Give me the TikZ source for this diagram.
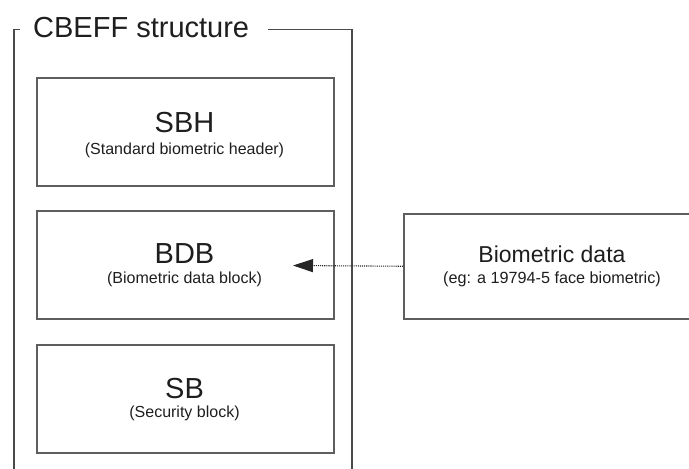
\documentclass[tikz,border=0pt]{standalone}
\usepackage{fontspec}
\setmainfont{Liberation Sans}
\usetikzlibrary{arrows.meta}
\definecolor{boxgray}{HTML}{5E5E5E}
\definecolor{framegray}{HTML}{4A4A4A}
\definecolor{txt}{HTML}{1E1E1E}
\begin{document}
\begin{tikzpicture}[x=1pt,y=-1pt,
  blk/.style={draw=boxgray,line width=1.5pt,minimum width=297pt,minimum height=108pt,inner sep=0pt,anchor=north west},
  frm/.style={draw=framegray,line width=1.2pt},
  ttl/.style={font=\fontsize{29}{29}\selectfont,text=txt,anchor=base west,inner sep=0pt},
  big/.style={font=\fontsize{29}{29}\selectfont,text=txt,anchor=base,inner sep=0pt},
  mid/.style={font=\fontsize{23}{23}\selectfont,text=txt,anchor=base,inner sep=0pt},
  small/.style={font=\fontsize{16}{16}\selectfont,text=txt,anchor=base,inner sep=0pt},
  link/.style={draw=black!85,densely dotted,line width=1.1pt,-{Triangle[length=20pt,width=13pt]}},
]
\useasboundingbox (0,0) rectangle (689,469);
\clip (0,0) rectangle (689,469);
% outer frame
\node[ttl] (title) at (33,37) {CBEFF structure};
\draw[frm] (14,475) -- (14,29.5) -- (20,29.5);
\draw[frm] (268,29.5) -- (352,29.5) -- (352,475);
% blocks
\node[blk] (sbh) at (36,77) {};
\node[big] (sbht) at (184.5,132) {SBH};
\node[small] (sbhs) at (184.5,154) {(Standard biometric header)};
\node[blk] (bdb) at (36,210) {};
\node[big] (bdbt) at (184.5,263) {BDB};
\node[small] (bdbs) at (184.5,283) {(Biometric data block)};
\node[blk] (sb) at (36,344) {};
\node[big] (sbt) at (184.5,398) {SB};
\node[small] (sbs) at (184.5,417) {(Security block)};
% biometric data
\node[blk,minimum width=298pt,minimum height=105pt] (bio) at (403,213) {};
\node[mid] (biot) at (552,262) {Biometric data};
\node[small,font=\fontsize{16.2}{16}\selectfont] (bios) at (552,283) {(eg: a 19794-5 face biometric)};
% arrow
\coordinate (tip) at (293,265.5);
\draw[link] (bio.west) -- (tip);
\end{tikzpicture}
\end{document}
